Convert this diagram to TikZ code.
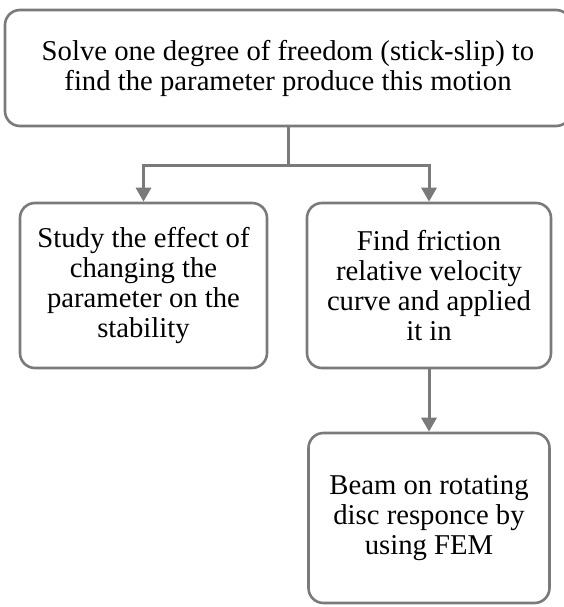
\documentclass[tikz,border=0pt]{standalone}
\usepackage{fontspec}
\setmainfont{Liberation Serif}
\usetikzlibrary{positioning, arrows.meta}
\definecolor{linegray}{RGB}{122,122,122}

\begin{document}
\begin{tikzpicture}[
			x=1pt, y=-1pt,
			>={Triangle[length=14pt, width=15pt]},
			box/.style={draw=linegray, line width=2.6pt, rounded corners=15pt,
				align=center, inner sep=0pt, font=\fontsize{28.7}{30}\selectfont},
			link/.style={draw=linegray, line width=3pt}
			]
			\useasboundingbox (0,0) rectangle (564,607);
			\node[box, minimum width=566pt, minimum height=116pt] (top) at (288,68)
				{Solve one degree of freedom (stick-slip) to\\find the parameter produce this motion};
			\node[box, minimum width=247pt, minimum height=165pt] (study) at (143.5,285.5)
				{Study the effect of\\changing the\\parameter on the\\stability};
			\node[box, minimum width=244pt, minimum height=165pt] (friction) at (429,285.5)
				{Find friction\\relative velocity\\curve and applied\\it in};
			\node[box, minimum width=241pt, minimum height=170pt] (beam) at (429,518)
				{Beam on rotating\\disc responce by\\using FEM};
			\coordinate (split) at (288,165);
			\path[link]
			(top) -- (split);
			\path[link, ->]
			(split) -| (study);
			\path[link, ->]
			(split) -| (friction);
			\path[link, ->]
			(friction) -- (beam);
		\end{tikzpicture}
\end{document}
